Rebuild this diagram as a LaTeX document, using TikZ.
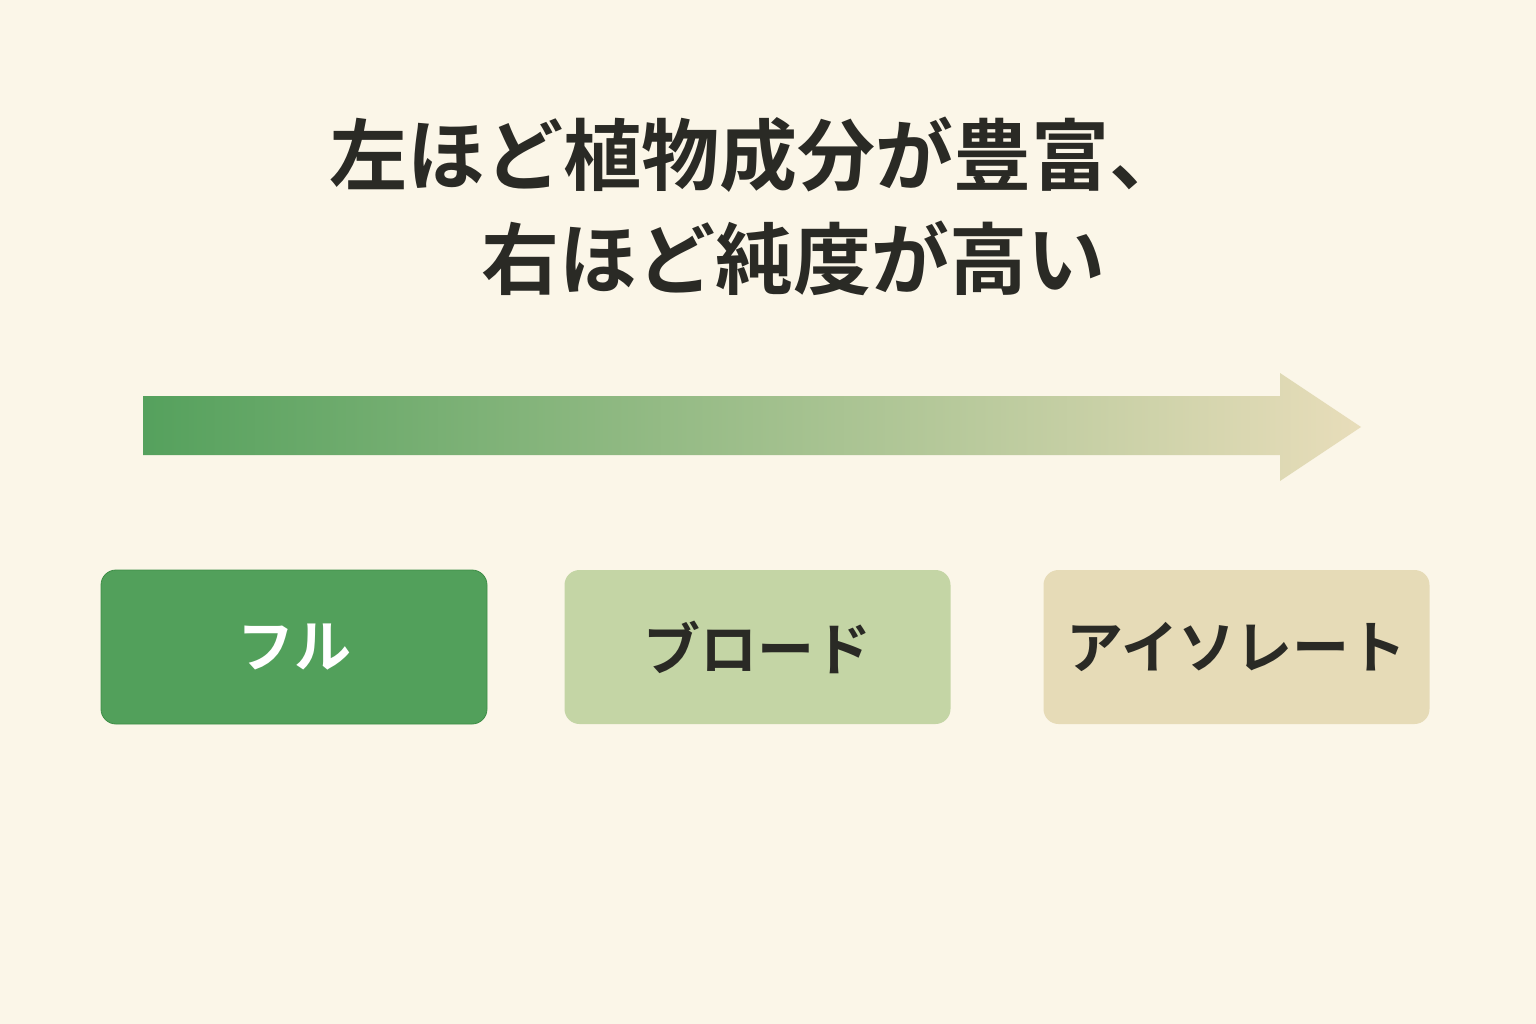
\documentclass[tikz,border=0pt]{standalone}
\usepackage{fontspec}
\newfontfamily\jp[BoldFont={Noto Sans CJK JP Bold}]{Noto Sans CJK JP}
\definecolor{bg}{HTML}{FBF6E8}
\definecolor{ink}{HTML}{2A2A25}
\definecolor{gfull}{HTML}{52A05B}
\definecolor{gfullb}{HTML}{3E8E47}
\definecolor{gbroad}{HTML}{C4D5A5}
\definecolor{giso}{HTML}{E6DBB7}
\definecolor{amid}{HTML}{A5C68C}
\definecolor{aleft}{HTML}{55A15D}
\definecolor{aright}{HTML}{E8DDBA}
\tikzset{
  x=1pt, y=-1pt,
  title/.style={font=\jp\bfseries\fontsize{78}{92}\selectfont, text=ink, inner sep=0pt},
  catbox/.style={rounded corners=15pt, minimum width=386pt, minimum height=154pt, inner sep=0pt,
     font=\jp\bfseries\fontsize{57}{70}\selectfont, text=ink},
}
\begin{document}
\begin{tikzpicture}
\fill[bg] (0,0) rectangle (1536,1024);
\useasboundingbox (0,0) rectangle (1536,1024);
% title
\node[title] (t1) at (758,155) {左ほど植物成分が豊富、};
\node[title] (t2) at (793,258) {右ほど純度が高い};
% gradient arrow
\shade[left color=aleft, middle color=amid, right color=aright]
  (143,396) -- (1280,396) -- (1280,373) -- (1361,427) -- (1280,481) -- (1280,455) -- (143,455) -- cycle;
% boxes
\node[catbox, fill=gfull, draw=gfullb, line width=0.8pt, text=white] (full) at (294,647) {フル};
\node[catbox, fill=gbroad] (broad) at (757.5,647) {ブロード};
\node[catbox, fill=giso] (iso) at (1236.5,647) {アイソレート};
\end{tikzpicture}
\end{document}
